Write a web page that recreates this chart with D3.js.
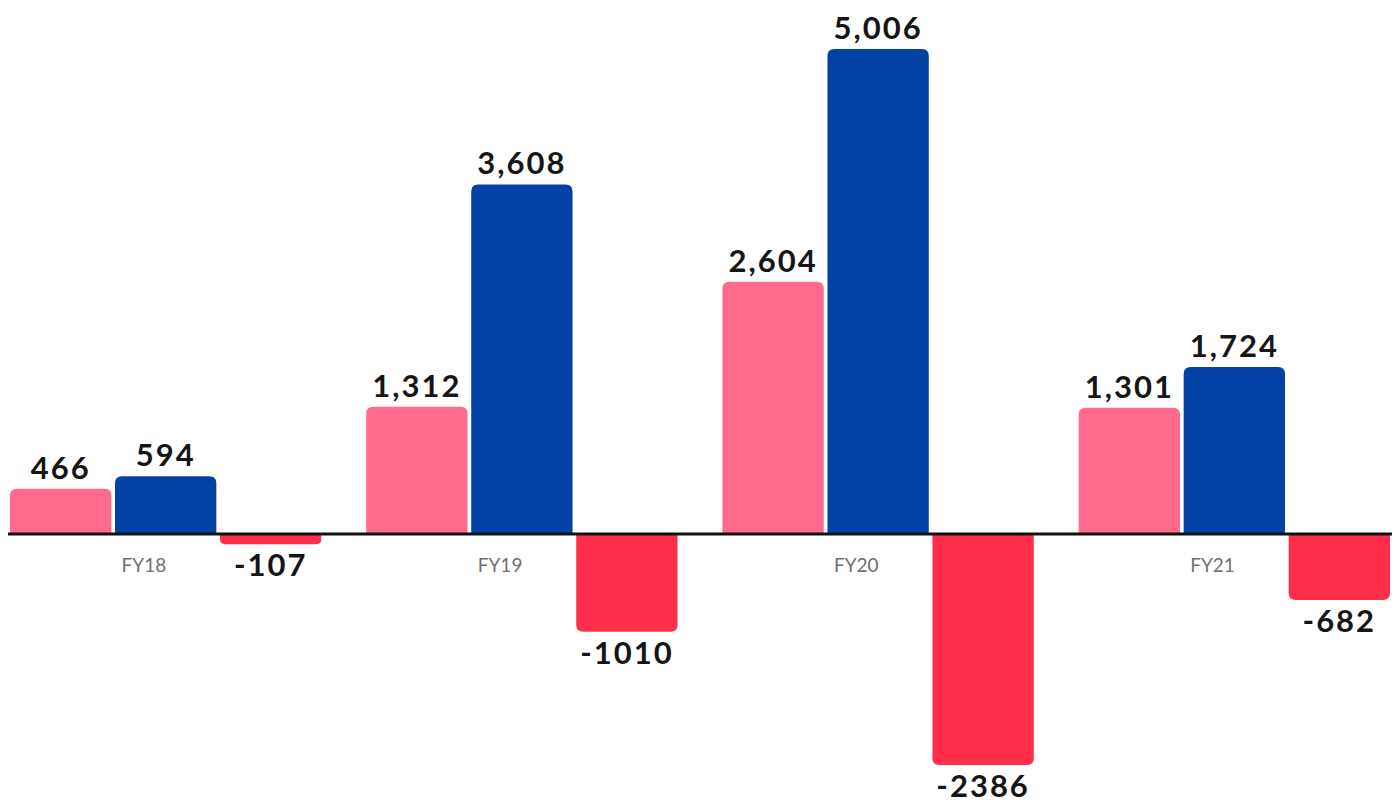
<!DOCTYPE html>
<html><head><meta charset="utf-8">
<script src="https://cdn.jsdelivr.net/npm/d3@7"></script>
<style>
html,body{margin:0;padding:0;background:#fff;}
svg{display:block;}
</style></head>
<body>
<svg id="chart" width="1400" height="805"></svg>
<script>
const categories = ["FY18", "FY19", "FY20", "FY21"];
const seriesNames = ["A", "B", "C"];
const seriesA = [466, 1312, 2604, 1301];
const seriesB = [594, 3608, 5006, 1724];
const seriesC = [-107, -1010, -2386, -682];
const labelsA = ["466", "1,312", "2,604", "1,301"];
const labelsB = ["594", "3,608", "5,006", "1,724"];
const labelsC = ["-107", "-1010", "-2386", "-682"];
const colors = ["#ff6a8d", "#0142a4", "#ff2f4c"];

const values = [seriesA, seriesB, seriesC];
const labels = [labelsA, labelsB, labelsC];

const svg = d3.select("#chart");
const x0 = d3.scaleBand().domain(categories).range([10, 1390]).paddingInner(0.126).paddingOuter(0);
const x1 = d3.scaleBand().domain(seriesNames).range([0, x0.bandwidth()]).paddingInner(0.035);
const y = d3.scaleLinear().domain([-2386, 5006]).range([765, 49]);

const rows = [];
categories.forEach((c, i) => {
  seriesNames.forEach((s, j) => {
    rows.push({cat: c, ser: s, v: values[j][i], lab: labels[j][i], color: colors[j]});
  });
});

function barPath(x, w, y0, y1, r) {
  const h = Math.abs(y1 - y0);
  r = Math.min(r, h / 2, w / 2);
  if (y1 < y0) {
    return `M${x},${y0}V${y1 + r}Q${x},${y1} ${x + r},${y1}H${x + w - r}Q${x + w},${y1} ${x + w},${y1 + r}V${y0}Z`;
  } else {
    return `M${x},${y0}V${y1 - r}Q${x},${y1} ${x + r},${y1}H${x + w - r}Q${x + w},${y1} ${x + w},${y1 - r}V${y0}Z`;
  }
}

const g = svg.append("g");
g.selectAll("path.bar").data(rows).join("path")
  .attr("class", "bar")
  .attr("d", d => barPath(x0(d.cat) + x1(d.ser), x1.bandwidth(), y(0), y(d.v), 7))
  .attr("fill", d => d.color);

svg.append("line")
  .attr("x1", 8).attr("x2", 1392)
  .attr("y1", y(0)).attr("y2", y(0))
  .attr("stroke", "#111").attr("stroke-width", 3);

g.selectAll("text.val").data(rows).join("text")
  .attr("class", "val")
  .attr("x", d => x0(d.cat) + x1(d.ser) + x1.bandwidth() / 2)
  .attr("y", d => d.v >= 0 ? y(d.v) - 10 : y(d.v) + 32)
  .attr("text-anchor", "middle")
  .attr("font-family", "Lato, 'DejaVu Sans', sans-serif")
  .attr("font-weight", 700)
  .attr("font-size", 31)
  .attr("letter-spacing", 2)
  .attr("fill", "#151515")
  .text(d => d.lab);

svg.selectAll("text.cat").data(categories).join("text")
  .attr("class", "cat")
  .attr("x", d => x0(d) + x0.bandwidth() * 0.43)
  .attr("y", 572)
  .attr("text-anchor", "middle")
  .attr("font-family", "Lato, 'DejaVu Sans', sans-serif")
  .attr("font-weight", 400)
  .attr("font-size", 19)
  .attr("fill", "#707070")
  .text(d => d);
</script>
</body></html>
